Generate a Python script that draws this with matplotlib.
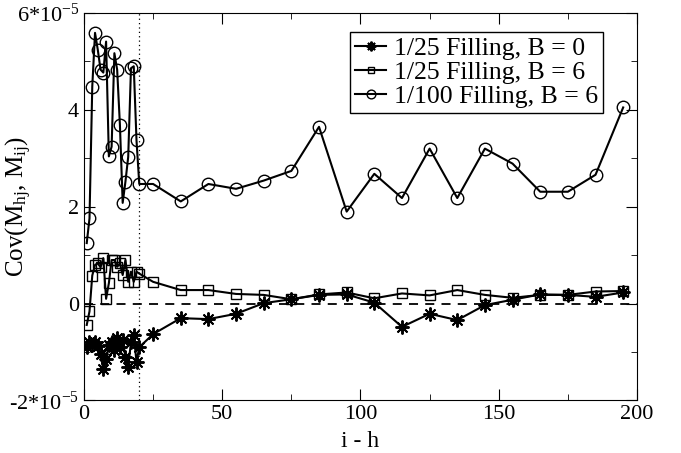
import matplotlib
matplotlib.use("Agg")
import matplotlib.pyplot as plt
from matplotlib.ticker import MultipleLocator

plt.rcParams['font.family'] = ['Liberation Serif', 'DejaVu Serif']
plt.rcParams['mathtext.fontset'] = 'custom'
plt.rcParams['mathtext.rm'] = 'Liberation Serif'
plt.rcParams['mathtext.it'] = 'Liberation Serif:italic'

# values in units of 1e-5
x_near = list(range(1, 21))
x_far = list(range(25, 200, 10))

b0_near = [-0.90, -0.80, -0.85, -0.80, -0.88, -1.05, -1.35, -1.15, -0.85, -0.80,
           -0.95, -0.70, -0.90, -0.75, -1.10, -1.30, -0.80, -0.65, -1.20, -0.90]
b0_far = [-0.63, -0.30, -0.32, -0.21, 0.01, 0.09, 0.18, 0.19, 0.02, -0.48,
          -0.21, -0.34, -0.03, 0.08, 0.19, 0.18, 0.14, 0.23]

b6_near = [-0.44, -0.16, 0.58, 0.80, 0.83, 0.75, 0.94, 0.10, 0.42, 0.90,
           0.90, 0.76, 0.83, 0.59, 0.90, 0.45, 0.66, 0.45, 0.66, 0.62]
b6_far = [0.45, 0.28, 0.28, 0.20, 0.18, 0.09, 0.19, 0.23, 0.11, 0.21,
          0.17, 0.28, 0.18, 0.12, 0.18, 0.18, 0.25, 0.26]

f100_near = [1.25, 1.76, 4.48, 5.59, 5.24, 4.83, 4.77, 5.41, 3.04, 3.24,
             5.17, 4.83, 3.69, 2.08, 2.52, 3.03, 4.86, 4.90, 3.37, 2.47]
f100_far = [2.47, 2.11, 2.47, 2.37, 2.54, 2.74, 3.65, 1.90, 2.68, 2.18,
            3.20, 2.18, 3.20, 2.89, 2.31, 2.31, 2.66, 4.05]

x_all = x_near + x_far

fig = plt.figure(figsize=(6.81, 4.53), dpi=100)
ax = fig.add_axes([0.1233, 0.1159, 0.8121, 0.8554])

ax.axhline(0, color='k', ls=(0, (5, 4)), lw=1.3)
ax.axvline(20, color='k', ls=(0, (1, 2.5)), lw=0.9)

ax.plot(x_all, b0_near + b0_far, 'k-', marker=(8, 2, 0), ms=10, mew=1.4, lw=1.5,
        label='1/25 Filling, B = 0')
ax.plot(x_all, b6_near + b6_far, 'k-', marker='s', ms=7, mfc='none', mew=1.0, lw=1.5,
        label='1/25 Filling, B = 6')
ax.plot(x_all, f100_near + f100_far, 'k-', marker='o', ms=9, mfc='none', mew=1.0, lw=1.5,
        label='1/100 Filling, B = 6')

ax.set_xlim(0, 200)
ax.set_ylim(-2, 6)
ax.xaxis.set_major_locator(MultipleLocator(50))
ax.xaxis.set_minor_locator(MultipleLocator(25))
ax.set_yticks([-2, 0, 2, 4, 6])
ax.set_yticklabels([r'-2*10$^{-5}$', '0', '2', '4', r'6*10$^{-5}$'])
ax.yaxis.set_minor_locator(MultipleLocator(1))
ax.tick_params(which='both', direction='in', top=True, right=True, labelsize=16)
ax.tick_params(which='major', length=8)
ax.tick_params(which='minor', length=4)

ax.set_xlabel('i - h', fontsize=17)
ax.xaxis.set_label_coords(0.5, -0.078)
ax.set_ylabel(r'Cov(M$_{\rm hj}$, M$_{\rm ij}$)', fontsize=18)
ax.yaxis.set_label_coords(-0.09, 0.5)

leg = ax.legend(loc='upper left', bbox_to_anchor=(0.481, 0.952), fontsize=18.5,
                handlelength=1.2, handletextpad=0.3, borderpad=0.2,
                labelspacing=0.05, fancybox=False, framealpha=1,
                edgecolor='k', borderaxespad=0, markerscale=0.7)
leg.get_frame().set_linewidth(1.0)

fig.savefig('out.png', dpi=100)
